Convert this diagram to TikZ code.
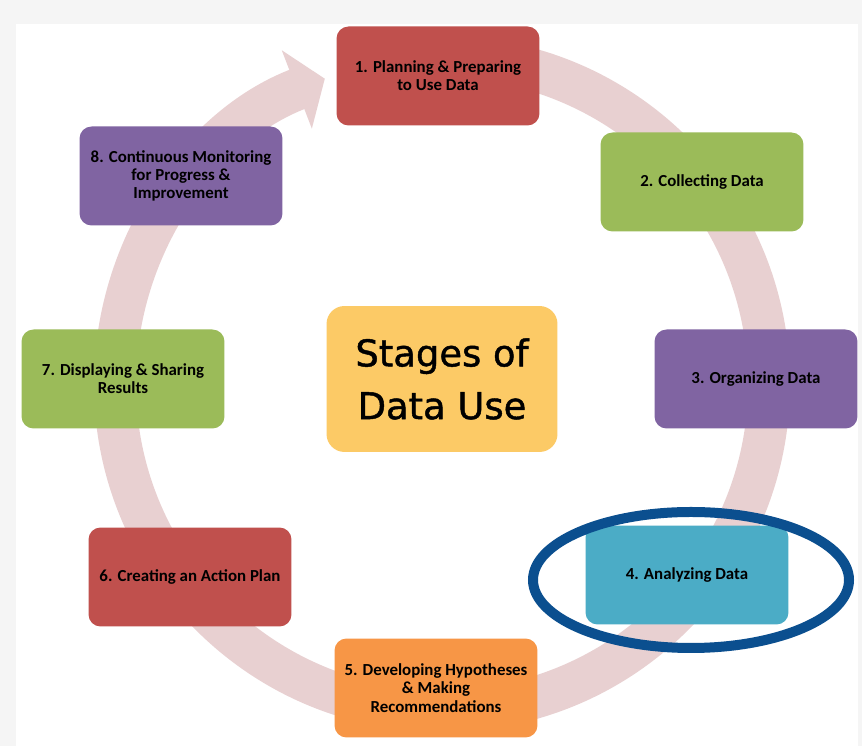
\documentclass[tikz,border=0pt]{standalone}
\usepackage{fontspec}
\setmainfont{Carlito}
\newfontfamily\titlefont[FakeBold=1.2]{DejaVu Sans}
\usetikzlibrary{arrows.meta}
\definecolor{stred}{HTML}{C0504D}
\definecolor{stgreen}{HTML}{9BBB59}
\definecolor{stpurple}{HTML}{8064A2}
\definecolor{stteal}{HTML}{4BACC6}
\definecolor{storange}{HTML}{F79646}
\definecolor{stcentre}{HTML}{FCCA66}
\definecolor{ringpink}{HTML}{E8D0D1}
\definecolor{ringblue}{HTML}{0B4F8F}
\begin{document}
\begin{tikzpicture}[x=0.02cm,y=0.02cm,
    stage/.style={rounded corners=0.24cm,minimum width=4.06cm,minimum height=1.98cm,
        align=center,font=\bfseries\fontsize{9.6}{10.4}\selectfont},
    ring/.style={line width=0.84cm,draw=ringpink,-{Triangle[length=0.6cm,width=1.65cm]}}]
    % page with its shadow
    \fill[gray!8] (0,0) rectangle (862,746);
    \fill[white] (16,0) rectangle (858,722);
    \useasboundingbox (0,0) rectangle (862,746);
    % the cycle
    \coordinate (O) at (442,362);
    \draw[ring] ([shift={(90:327)}]O) arc[start angle=90,end angle=-249,radius=327];
    % stages
    \node[stage,fill=stred] (P1) at (438,670) {1. Planning \& Preparing\\to Use Data};
    \node[stage,fill=stgreen] (P2) at (702,564) {2. Collecting Data};
    \node[stage,fill=stpurple] (P3) at (756,367) {3. Organizing Data};
    \node[stage,fill=stteal] (P4) at (687,171) {4. Analyzing Data};
    \node[stage,fill=storange] (P5) at (436,58) {5. Developing Hypotheses\\\& Making\\Recommendations};
    \node[stage,fill=stred] (P6) at (190,169) {6. Creating an Action Plan};
    \node[stage,fill=stgreen] (P7) at (123,367) {7. Displaying \& Sharing\\Results};
    \node[stage,fill=stpurple] (P8) at (181,570) {8. Continuous Monitoring\\for Progress \&\\Improvement};
    \node[rounded corners=0.36cm,fill=stcentre,minimum width=4.62cm,minimum height=2.92cm,
        align=center,font=\titlefont\fontsize{21}{30}\selectfont] (C) at (442,367) {Stages of\\Data Use};
    % mark on the current stage
    \draw[ringblue,line width=0.2cm] (691,166) ellipse[x radius=158,y radius=68];
\end{tikzpicture}
\end{document}
